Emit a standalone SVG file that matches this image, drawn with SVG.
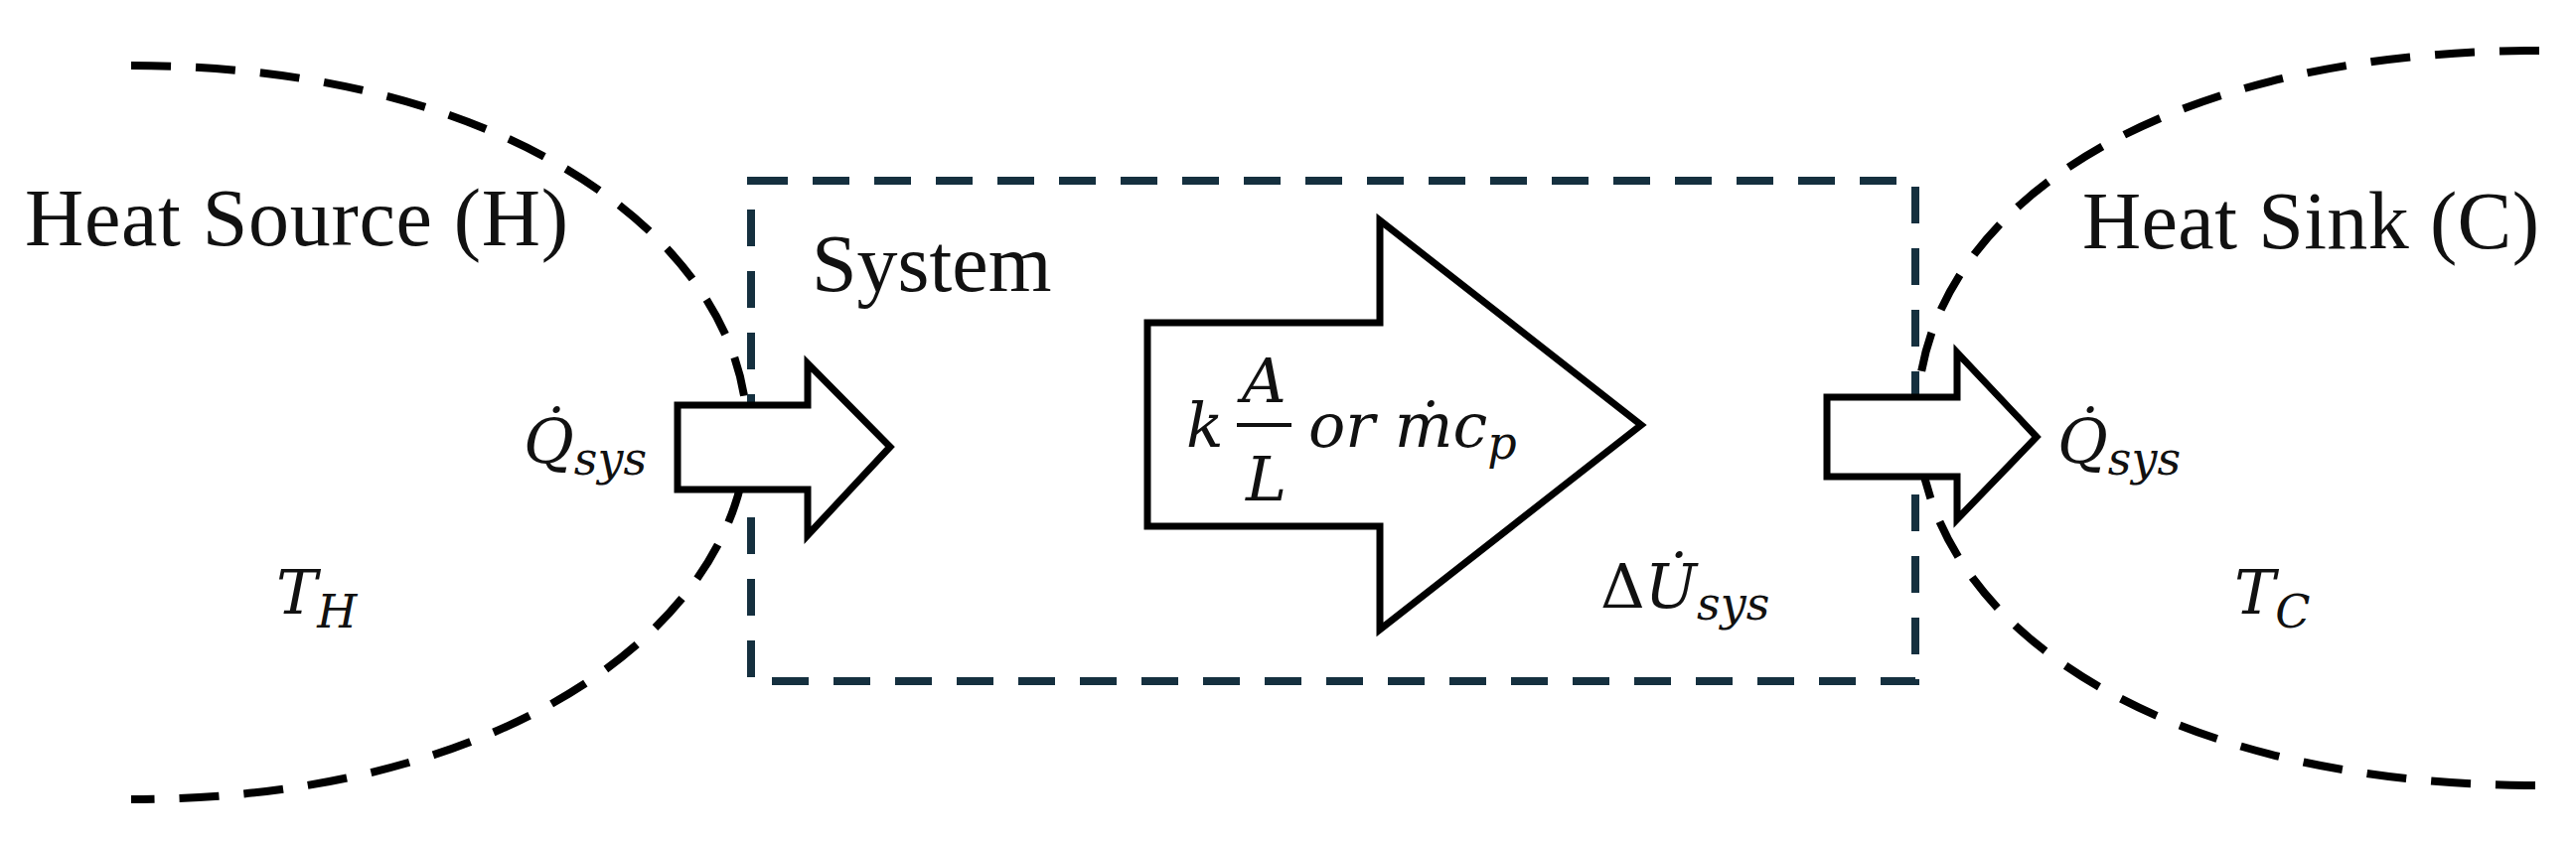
<svg xmlns="http://www.w3.org/2000/svg" width="2593" height="850" viewBox="0 0 2593 850">
<style>
.bd{fill:none;stroke:#000;stroke-width:8;stroke-dasharray:40 25}
.rd{fill:none;stroke:#15303f;stroke-width:8;stroke-dasharray:37 25}
.ar{fill:#fff;stroke:#000;stroke-width:7;stroke-linejoin:miter}
.lb{font-family:"Liberation Serif",serif;font-size:82px;fill:#111}
.m{font-family:"DejaVu Serif","Liberation Serif",serif;font-style:italic;font-size:62px;fill:#111}
.s{font-size:46px}
.up{font-style:normal}
</style>
<rect width="2593" height="850" fill="#fff"/>
<g id="connectors">
<path class="bd" d="M132,66 C520,66 752,250 752,435 C752,620 520,805 132,805"/>
<path class="bd" d="M2556,51 C2160,51 1930,220 1930,420 C1930,620 2160,791 2556,791"/>
</g>
<g id="system"><rect class="rd" x="756" y="182" width="1172" height="504"/>
<text class="lb" x="817" y="293">System</text></g>
<g id="source"><text class="lb" x="25" y="247" textLength="547">Heat Source (H)</text>
<text class="m" x="278" y="618">T<tspan class="s" dy="14">H</tspan></text></g>
<g id="sink"><text class="lb" x="2096" y="250" textLength="460">Heat Sink (C)</text>
<text class="m" x="2249" y="618">T<tspan class="s" dy="14">C</tspan></text></g>
<g id="arrow-in"><polygon class="ar" points="682,408 813,408 813,366 896,450 813,539 813,493 682,493"/>
<text class="m" x="527" y="466">Q̇<tspan class="s" dy="12">sys</tspan></text></g>
<g id="conduct"><polygon class="ar" points="1155,325 1389,325 1389,222 1652,428 1389,634 1389,530 1155,530"/>
<text class="m" x="1194" y="450">k</text>
<text class="m" x="1250" y="405">A</text>
<line x1="1245" y1="428" x2="1300" y2="428" stroke="#111" stroke-width="4"/>
<text class="m" x="1254" y="504">L</text>
<text class="m" x="1317" y="450">or ṁc<tspan class="s" dy="12">p</tspan></text>
<text class="m" x="1611" y="612"><tspan class="up">Δ</tspan>U̇<tspan class="s" dy="12">sys</tspan></text></g>
<g id="arrow-out"><polygon class="ar" points="1839,400 1970,400 1970,355 2050,440 1970,523 1970,480 1839,480"/>
<text class="m" x="2071" y="466">Q̇<tspan class="s" dy="12">sys</tspan></text></g>
</svg>
